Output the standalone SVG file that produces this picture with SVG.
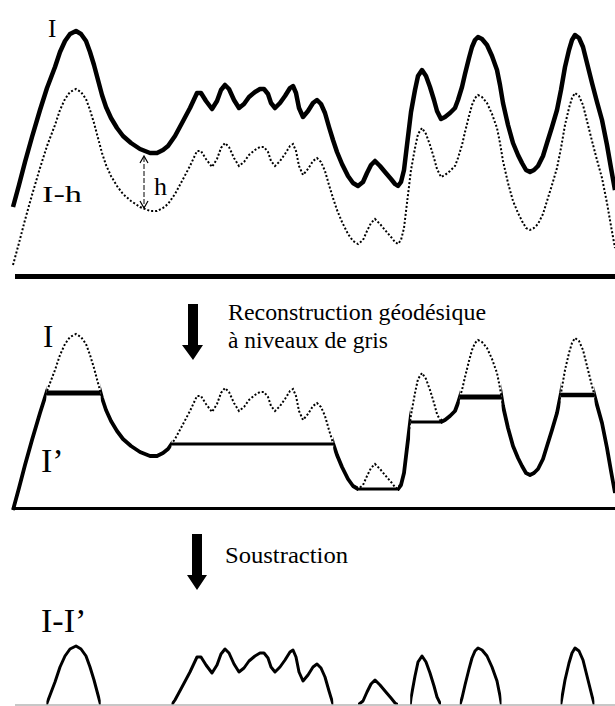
<svg xmlns="http://www.w3.org/2000/svg" xmlns:xlink="http://www.w3.org/1999/xlink" width="615" height="706" viewBox="0 0 615 706">
<style>
.lbl{fill:#000}
.solid{fill:none;stroke:#000;stroke-linejoin:round;stroke-linecap:butt}
.dot{fill:none;stroke:#000;stroke-width:2;stroke-dasharray:2 2}
.flat{stroke:#000;stroke-linecap:butt}
.base{stroke:#000;stroke-linecap:butt}
</style>
<defs>
<path id="Icurve" d="M13,207 L19,185 L25,162 L32,137 L40,110 L47,88 L55,67 L60,52 L65,41 L70,34 L76,31 L81,34 L86,41 L90,52 L94,65 L98,80 L102,95 L106,107 L111,118 L117,128 L123,136 L131,143 L140,149 L150,153 L157,153 L163,150 L168,146 L175,136 L182,123 L190,108 L197,93 L201,93 L206,101 L212,109 L217,101 L221,90 L225,85 L229,89 L234,100 L239,108 L244,104 L249,97 L255,92 L260,89 L264,89 L268,94 L271,103 L275,108 L280,103 L285,96 L290,88 L293,86 L296,93 L299,108 L303,117 L308,111 L313,103 L317,100 L321,104 L325,113 L329,127 L333,140 L337,152 L342,164 L348,176 L353,183 L358,186 L363,182 L367,173 L371,165 L375,161 L380,166 L385,172 L391,179 L395,184 L398,186 L401,182 L404,170 L407,145 L411,112 L415,90 L418,76 L422,70 L426,76 L430,87 L434,100 L437,111 L441,119 L445,117 L450,113 L455,108 L458,100 L462,87 L465,74 L469,58 L472,47 L475,40 L478,37 L482,39 L487,45 L492,56 L497,70 L500,85 L503,103 L508,125 L513,143 L518,155 L522,163 L526,170 L530,172 L534,170 L538,166 L543,156 L547,143 L552,127 L557,110 L561,90 L565,67 L569,50 L572,40 L575,35 L579,38 L583,47 L587,63 L592,83 L597,102 L602,120 L607,145 L611,168 L615,190"/>
<clipPath id="midSolid" clipPathUnits="userSpaceOnUse">
<rect x="0" y="280" width="46.4" height="235"/>
<rect x="100.7" y="280" width="70.8" height="235"/>
<rect x="333.3" y="280" width="24.7" height="235"/>
<rect x="398" y="280" width="12.2" height="235"/>
<rect x="441" y="280" width="18.8" height="235"/>
<rect x="501.5" y="280" width="59.1" height="235"/>
<rect x="594.4" y="280" width="25" height="235"/>
</clipPath>
<clipPath id="b1" clipPathUnits="userSpaceOnUse"><rect x="46.4" y="600" width="54.3" height="105"/></clipPath>
<clipPath id="b2" clipPathUnits="userSpaceOnUse"><rect x="171.5" y="600" width="161.8" height="105"/></clipPath>
<clipPath id="b3" clipPathUnits="userSpaceOnUse"><rect x="358" y="600" width="40" height="105"/></clipPath>
<clipPath id="b4" clipPathUnits="userSpaceOnUse"><rect x="410.2" y="600" width="30.8" height="105"/></clipPath>
<clipPath id="b5" clipPathUnits="userSpaceOnUse"><rect x="459.8" y="600" width="41.7" height="105"/></clipPath>
<clipPath id="b6" clipPathUnits="userSpaceOnUse"><rect x="560.6" y="600" width="33.8" height="105"/></clipPath>
</defs>

<g id="panel-top">
<use xlink:href="#Icurve" class="dot" transform="translate(0,58)"/>
<use xlink:href="#Icurve" class="solid" stroke-width="4.5"/>
<line class="base" x1="15" y1="276.5" x2="615" y2="276.5" stroke-width="5"/>
<g id="h-marker">
<line x1="144" y1="157" x2="144" y2="208" stroke="#000" stroke-width="1" stroke-dasharray="5 2"/>
<polyline points="140,163 144,156 148,163" fill="none" stroke="#000" stroke-width="1.2"/>
<polyline points="140,201 144,208 148,201" fill="none" stroke="#000" stroke-width="1.2"/>
</g>
<text class="lbl" font-family="Liberation Serif, Tinos, Times New Roman, DejaVu Serif, serif" x="48" y="37" font-size="25">I</text>
<text class="lbl" font-family="Liberation Serif, Tinos, Times New Roman, DejaVu Serif, serif" x="42" y="202" font-size="24" textLength="40" lengthAdjust="spacingAndGlyphs">I-h</text>
<text class="lbl" font-family="Liberation Serif, Tinos, Times New Roman, DejaVu Serif, serif" x="154" y="195" font-size="26">h</text>
</g>

<g id="panel-middle">
<use xlink:href="#Icurve" class="dot" transform="translate(0,303)"/>
<g clip-path="url(#midSolid)">
<use xlink:href="#Icurve" class="solid" stroke-width="3.8" transform="translate(0,303)"/>
</g>
<line class="flat" x1="46.4" y1="393" x2="100.7" y2="393" stroke-width="5"/>
<line class="flat" x1="171.5" y1="444" x2="333.3" y2="444" stroke-width="3"/>
<line class="flat" x1="358" y1="489" x2="398" y2="489" stroke-width="3"/>
<line class="flat" x1="410.2" y1="422" x2="441" y2="422" stroke-width="3"/>
<line class="flat" x1="459.8" y1="397" x2="501.5" y2="397" stroke-width="5"/>
<line class="flat" x1="560.6" y1="395" x2="594.4" y2="395" stroke-width="4.5"/>
<line class="base" x1="15" y1="508.5" x2="615" y2="508.5" stroke-width="3"/>
<text class="lbl" font-family="Liberation Serif, Tinos, Times New Roman, DejaVu Serif, serif" x="43" y="347" font-size="31">I</text>
<text class="lbl" font-family="Liberation Serif, Tinos, Times New Roman, DejaVu Serif, serif" x="41" y="472" font-size="34">I’</text>
</g>

<g id="panel-bottom">
<g clip-path="url(#b1)"><use xlink:href="#Icurve" class="solid" stroke-width="3" transform="translate(0,615)"/></g>
<g clip-path="url(#b2)"><use xlink:href="#Icurve" class="solid" stroke-width="3" transform="translate(0,564)"/></g>
<g clip-path="url(#b3)"><use xlink:href="#Icurve" class="solid" stroke-width="3" transform="translate(0,519)"/></g>
<g clip-path="url(#b4)"><use xlink:href="#Icurve" class="solid" stroke-width="3" transform="translate(0,586)"/></g>
<g clip-path="url(#b5)"><use xlink:href="#Icurve" class="solid" stroke-width="3" transform="translate(0,611)"/></g>
<g clip-path="url(#b6)"><use xlink:href="#Icurve" class="solid" stroke-width="3" transform="translate(0,613)"/></g>
<line x1="15" y1="705" x2="615" y2="705" stroke="#b4b4b4" stroke-width="1.5"/>
<text class="lbl" font-family="Liberation Serif, Tinos, Times New Roman, DejaVu Serif, serif" x="41" y="632" font-size="34">I-I’</text>
</g>

<g id="connectors">
<g id="arrow-reconstruction">
<polygon points="188,304 198,304 198,345 203,345 193,360 182,345 188,345" fill="#000"/>
<text class="lbl" font-family="Liberation Serif, Tinos, Times New Roman, DejaVu Serif, serif" x="228" y="320" font-size="23.5" textLength="258" lengthAdjust="spacingAndGlyphs">Reconstruction géodésique</text>
<text class="lbl" font-family="Liberation Serif, Tinos, Times New Roman, DejaVu Serif, serif" x="228" y="348" font-size="23.5">à niveaux de gris</text>
</g>
<g id="arrow-soustraction">
<polygon points="192,534 202,534 202,575 207,575 197,590 187,575 192,575" fill="#000"/>
<text class="lbl" font-family="Liberation Serif, Tinos, Times New Roman, DejaVu Serif, serif" x="225" y="563" font-size="24" textLength="123" lengthAdjust="spacingAndGlyphs">Soustraction</text>
</g>
</g>
</svg>
